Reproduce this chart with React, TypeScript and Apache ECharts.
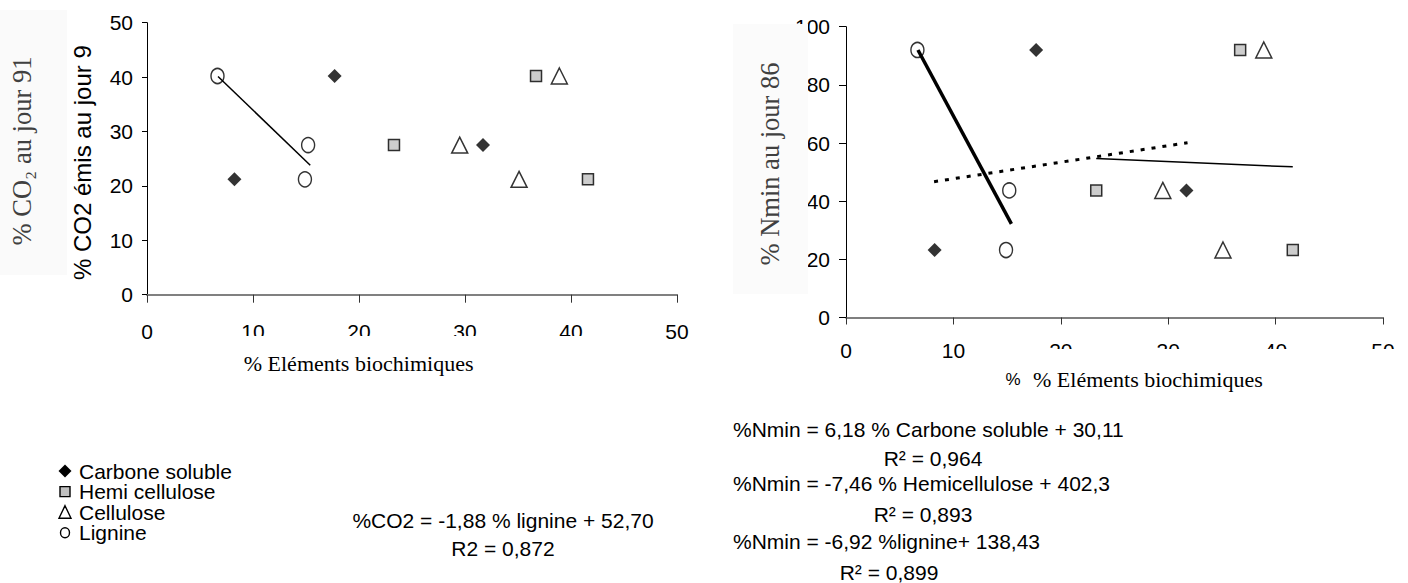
import React, { useEffect, useRef } from 'react';
import * as echarts from 'echarts';

// ---- data ----
const seriesNames = ['Carbone soluble', 'Hemi cellulose', 'Cellulose', 'Lignine'];
// % éléments biochimiques of the three residues (x), same in both charts
const carboneX = [17.7, 31.7, 8.25];
const hemiX = [36.7, 23.3, 41.6];
const celluloseX = [38.9, 29.5, 35.1];
const lignineX = [6.65, 15.2, 14.9];
// % CO2 au jour 91 and % Nmin au jour 86 of the three residues (y)
const co2Y = [40.2, 27.5, 21.2];
const nminY = [92.0, 43.7, 23.2];
// regression lines as drawn (end points)
const co2LignineTrend = [[6.7, 40.1], [15.4, 23.8]];
const nminLignineTrend = [[6.7, 92.0], [15.4, 32.2]];
const nminCarboneTrend = [[8.2, 46.7], [31.8, 60.1]];
const nminHemiTrend = [[23.3, 54.7], [41.6, 51.8]];
// axis ranges [min, max, interval]
const xRange = [0, 50, 10];
const co2Range = [0, 50, 10];
const nminRange = [0, 100, 20];
// texts
const co2Equation = ['%CO2 = -1,88 % lignine + 52,70', 'R2 = 0,872'];
const nminEquations = [
  '%Nmin = 6,18 % Carbone soluble + 30,11',
  'R² = 0,964',
  '%Nmin = -7,46 % Hemicellulose + 402,3',
  'R² = 0,893',
  '%Nmin = -6,92 %lignine+ 138,43',
  'R² = 0,899',
];

const SANS = '"Liberation Sans", Arial, Helvetica, sans-serif';
const SERIF = '"Liberation Serif", "Times New Roman", serif';

const pairs = (xs: number[], ys: number[]) => xs.map((x, i) => [x, ys[i]]);

const markerStyles: Record<string, any> = {
  'Carbone soluble': { symbol: 'diamond', symbolSize: 14, itemStyle: { color: '#000000' } },
  'Hemi cellulose': { symbol: 'rect', symbolSize: 11, itemStyle: { color: '#c0c0c0', borderColor: '#000', borderWidth: 1.5 } },
  'Cellulose': { symbol: 'triangle', symbolSize: [16, 16], itemStyle: { color: '#ffffff', borderColor: '#000', borderWidth: 1.5 } },
  'Lignine': { symbol: 'circle', symbolSize: [13, 15], itemStyle: { color: '#ffffff', borderColor: '#000', borderWidth: 1.5 } },
};
const xByName: Record<string, number[]> = {
  'Carbone soluble': carboneX,
  'Hemi cellulose': hemiX,
  'Cellulose': celluloseX,
  'Lignine': lignineX,
};

function valueAxis(range: number[], grid: number, opts: any) {
  return {
    type: 'value',
    gridIndex: grid,
    min: range[0],
    max: range[1],
    interval: range[2],
    splitLine: { show: false },
    axisLine: { show: true, onZero: false, lineStyle: { color: opts.lineColor, width: opts.lineWidth } },
    axisTick: { show: true, inside: false, length: opts.tickLen, lineStyle: { color: opts.tickColor || '#000', width: 1 } },
    axisLabel: { fontFamily: SANS, fontSize: 21, color: '#000', margin: opts.margin },
  };
}

function text(x: number, y: number, str: string, o: any = {}) {
  const align = o.align || 'left';
  const va = o.va || 'middle';
  return {
    type: 'text',
    x,
    y,
    rotation: o.rotation || 0,
    z: 120,
    silent: true,
    style: {
      text: str,
      fontFamily: o.font || SANS,
      fontSize: o.size || 21,
      fill: o.color || '#000',
      align,
      verticalAlign: va,
      textAlign: align,
      textVerticalAlign: va,
    },
  };
}

function rect(x: number, y: number, w: number, h: number, fill: string, z = 110) {
  return { type: 'rect', z, silent: true, shape: { x, y, width: w, height: h }, style: { fill } };
}

// legend rows (centre y) and marker column (centre x)
const LEG_X = 65;
const LEG_TEXT_X = 79;
const LEG_ROWS = [471, 491.6, 512.2, 532.8];

function legendGraphics() {
  const [r0, r1, r2, r3] = LEG_ROWS;
  const stroke = { stroke: '#000', lineWidth: 1.4 };
  return [
    { type: 'polygon', z: 120, silent: true, shape: { points: [[LEG_X, r0 - 6.5], [LEG_X + 6.5, r0], [LEG_X, r0 + 6.5], [LEG_X - 6.5, r0]] }, style: { fill: '#000' } },
    { type: 'rect', z: 120, silent: true, shape: { x: LEG_X - 5, y: r1 - 5, width: 10, height: 10 }, style: { fill: '#c0c0c0', ...stroke } },
    { type: 'polygon', z: 120, silent: true, shape: { points: [[LEG_X, r2 - 6.5], [LEG_X + 6, r2 + 6], [LEG_X - 6, r2 + 6]] }, style: { fill: '#fff', ...stroke } },
    { type: 'ellipse', z: 120, silent: true, shape: { cx: LEG_X, cy: r3, rx: 4.5, ry: 5 }, style: { fill: '#fff', ...stroke } },
    ...seriesNames.map((n, i) => text(LEG_TEXT_X, LEG_ROWS[i], n)),
  ];
}

export default function App() {
  const ref = useRef<HTMLDivElement>(null);

  useEffect(() => {
    if (!ref.current) return;
    const chart = echarts.init(ref.current, null, { renderer: 'svg' });

    const scatter: any[] = [];
    seriesNames.forEach((name) => {
      scatter.push({
        name,
        type: 'scatter',
        xAxisIndex: 0,
        yAxisIndex: 0,
        data: pairs(xByName[name], co2Y),
        z: 4,
        ...markerStyles[name],
      });
      scatter.push({
        name,
        type: 'scatter',
        xAxisIndex: 1,
        yAxisIndex: 1,
        data: pairs(xByName[name], nminY),
        z: 4,
        ...markerStyles[name],
      });
    });

    const trend = (name: string, axis: number, data: number[][], ls: any) => ({
      name,
      type: 'line',
      xAxisIndex: axis,
      yAxisIndex: axis,
      data,
      symbol: 'none',
      showSymbol: false,
      silent: true,
      z: 5,
      lineStyle: { color: '#000', cap: 'butt', ...ls },
    });

    const option: any = {
      animation: false,
      backgroundColor: '#ffffff',
      textStyle: { fontFamily: SANS },
      grid: [
        { left: 147, top: 22.7, width: 530, height: 272 },
        { left: 846, top: 26.7, width: 537, height: 290.8 },
      ],
      xAxis: [
        valueAxis(xRange, 0, { lineColor: '#808080', lineWidth: 2, tickLen: 8, tickColor: '#333', margin: 26 }),
        valueAxis(xRange, 1, { lineColor: '#555555', lineWidth: 1.5, tickLen: 7, tickColor: '#333', margin: 22 }),
      ],
      yAxis: [
        valueAxis(co2Range, 0, { lineColor: '#000', lineWidth: 1, tickLen: 5, margin: 14 }),
        valueAxis(nminRange, 1, { lineColor: '#000', lineWidth: 1, tickLen: 7, margin: 16 }),
      ],
      series: [
        ...scatter,
        trend('Régression lignine (CO2)', 0, co2LignineTrend, { width: 1.5 }),
        trend('Régression lignine (Nmin)', 1, nminLignineTrend, { width: 3.5 }),
        trend('Régression carbone soluble (Nmin)', 1, nminCarboneTrend, { width: 3, type: [4, 7] }),
        trend('Régression hemicellulose (Nmin)', 1, nminHemiTrend, { width: 1.5 }),
      ],
      graphic: [
        // left y titles
        rect(0, 10, 67, 265, '#fafafa'),
        text(21.5, 151, '% CO₂ au jour 91', { font: SERIF, size: 26.5, color: '#404040', align: 'center', rotation: Math.PI / 2 }),
        text(82, 280, '% CO2 émis au jour 9', { size: 24, rotation: Math.PI / 2 }),
        // right y title
        rect(733, 24, 75, 270, '#fbfbfb'),
        text(770, 164, '% Nmin au jour 86', { font: SERIF, size: 26.5, color: '#404040', align: 'center', rotation: Math.PI / 2 }),
        // left x title (its box hides the lower part of the middle tick labels)
        rect(200, 336, 420, 45, '#ffffff'),
        text(358.6, 363.5, '% Eléments biochimiques', { font: SERIF, size: 22, align: 'center' }),
        // right x title
        rect(995, 349, 413, 45, '#ffffff'),
        text(1013, 379.5, '%', { size: 17, align: 'center' }),
        text(1033, 379.5, '% Eléments biochimiques', { font: SERIF, size: 22 }),
        // legend
        ...legendGraphics(),
        // equations
        text(503, 520, co2Equation[0], { align: 'center' }),
        text(503, 548, co2Equation[1], { align: 'center' }),
        text(733, 429, nminEquations[0]),
        text(933, 458.5, nminEquations[1], { align: 'center' }),
        text(733, 483, nminEquations[2]),
        text(923, 514.5, nminEquations[3], { align: 'center' }),
        text(733, 541, nminEquations[4]),
        text(889, 572, nminEquations[5], { align: 'center' }),
      ],
    };

    chart.setOption(option);
    return () => chart.dispose();
  }, []);

  return (
    <div
      ref={ref}
      style={{ position: 'fixed', left: 0, top: 0, width: 1408, height: 583, background: '#fff' }}
    />
  );
}
